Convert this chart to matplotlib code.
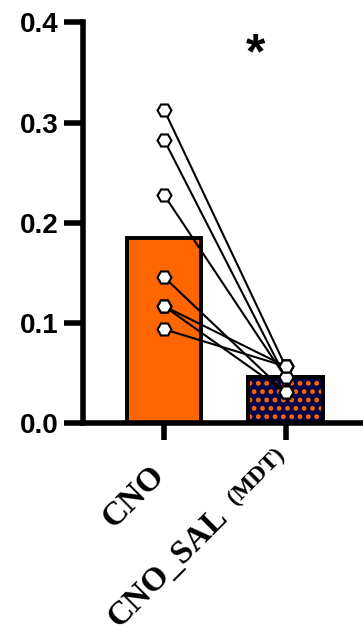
import matplotlib
matplotlib.use("Agg")
import matplotlib.pyplot as plt
import numpy as np

# Paired values per subject
conditions = ["CNO", "CNO_SAL"]
condition_notes = ["", "(MDT)"]
cno_values = [0.313, 0.283, 0.228, 0.146, 0.117, 0.117, 0.094]
cno_sal_values = [0.057, 0.046, 0.046, 0.031, 0.057, 0.031, 0.057]
y_ticks = [0.0, 0.1, 0.2, 0.3, 0.4]

plt.rcParams["hatch.linewidth"] = 2.2

fig = plt.figure(figsize=(3.63, 6.37), dpi=100)
ax = fig.add_axes([0.2287, 0.3352, 0.7713, 0.6295])

means = [np.mean(cno_values), np.mean(cno_sal_values)]
x = np.arange(len(conditions))
width = 0.613
edge_lw = 2.8

ax.bar(x[0], means[0], width=width, color="#FF6600", edgecolor="black",
       linewidth=edge_lw, zorder=2)
ax.bar(x[1], means[1], width=width, color="#05054A", edgecolor="black",
       linewidth=edge_lw, zorder=2)
# orange dot pattern on the second bar
ax.bar(x[1], means[1], width=width, fill=False, hatch="..",
       edgecolor="#FF6600", linewidth=0, zorder=2.1)
ax.bar(x[1], means[1], width=width, fill=False, edgecolor="black",
       linewidth=edge_lw, zorder=2.2)

for a, b in zip(cno_values, cno_sal_values):
    ax.plot([x[0], x[1]], [a, b], color="black", lw=1.5, zorder=3)
marker_style = dict(linestyle="none", marker="H", markersize=10,
                    markerfacecolor="white", markeredgecolor="black",
                    markeredgewidth=1.5, zorder=4)
ax.plot(np.full(len(cno_values), x[0]), cno_values, **marker_style)
ax.plot(np.full(len(cno_sal_values), x[1]), cno_sal_values, **marker_style)

ax.set_xlim(-0.667, 1.638)
ax.set_ylim(0, 0.4)
ax.set_yticks(y_ticks)
ax.set_yticklabels([f"{v:.1f}" for v in y_ticks], fontfamily="Liberation Sans",
                   fontweight="bold", fontsize=20)
ax.set_xticks(x)
ax.set_xticklabels([])

for side in ["top", "right"]:
    ax.spines[side].set_visible(False)
for side in ["left", "bottom"]:
    ax.spines[side].set_linewidth(4)
ax.tick_params(axis="both", width=4)
ax.tick_params(axis="y", length=14, pad=3.5)
ax.tick_params(axis="x", length=12)

# rotated category labels; the note is set smaller and slightly raised
label_font = dict(fontfamily="Liberation Serif", fontweight="bold",
                  rotation=45, rotation_mode="anchor", va="baseline",
                  annotation_clip=False)
label_offsets = [(1.5, -38.5), (-40.7, -68.0)]
note_offsets = [(0, 0), (-36.0, -59.0)]
for xi, name, note, off, noff in zip(x, conditions, condition_notes,
                                      label_offsets, note_offsets):
    ax.annotate(name, xy=(xi, 0), xytext=off, textcoords="offset points",
                ha="right", fontsize=24, **label_font)
    if note:
        ax.annotate(note, xy=(xi, 0), xytext=noff, textcoords="offset points",
                    ha="left", fontsize=17, **label_font)

ax.text(0.757, 0.3676, "*", ha="center", va="center", fontsize=36,
        fontweight="bold", fontfamily="Liberation Sans")

fig.savefig("out.png", dpi=100)
